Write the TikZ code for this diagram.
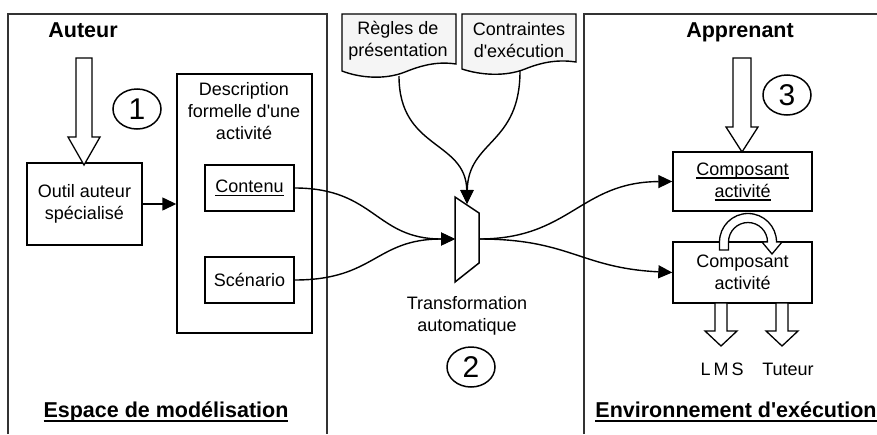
\documentclass[tikz,border=0pt]{standalone}
\usepackage{fontspec}
\setmainfont{Liberation Sans}
\usetikzlibrary{arrows.meta,shapes.geometric}

\newcommand\regsize{\fontsize{18}{22}\selectfont}
\newcommand\titlesize{\fontsize{21.5}{25}\selectfont\bfseries}
\newcommand\numsize{\fontsize{30}{30}\selectfont}
% underlines with a chosen offset and thickness
\newcommand\ulbold[1]{\setbox0=\hbox{#1}\leavevmode\rlap{\rule[-4pt]{\wd0}{2pt}}\box0}
\newcommand\ulthin[1]{\setbox0=\hbox{#1}\leavevmode\rlap{\rule[-3.5pt]{\wd0}{1.2pt}}\box0}
% hollow block arrow pointing down: x, tail y, tip y, half shaft, half head, head length
\newcommand\hollowdown[6]{%
  \draw[hollowline] ({#1-#4},#2) -- ({#1+#4},#2) -- ({#1+#4},{#3-#6}) -- ({#1+#5},{#3-#6})
    -- (#1,#3) -- ({#1-#5},{#3-#6}) -- ({#1-#4},{#3-#6}) -- cycle;}
\newcommand\apos{\textquotesingle}

\begin{document}
\begin{tikzpicture}[x=1pt,y=-1pt,
  frame/.style={line width=1.8pt, draw=black!80},
  box/.style={draw, line width=1.4pt, align=center, inner sep=0pt, font=\regsize},
  txt/.style={align=center, inner sep=0pt, font=\regsize},
  title/.style={inner sep=0pt, font=\titlesize},
  num/.style={ellipse, draw, line width=1.5pt, minimum width=48pt, minimum height=40pt, inner sep=0pt, font=\numsize},
  link/.style={line width=1.4pt, -{Triangle[length=14pt,width=13pt]}},
  doc/.style={draw, line width=1.4pt, fill=black!4},
  trap/.style={draw, line width=1.5pt, fill=white},
  hollowline/.style={draw, line width=1.3pt, fill=white, line join=miter}]
\useasboundingbox (0,0) rectangle (877,434);

% the three areas
\draw[frame] (8,434) -- (8,14) -- (327,14) -- (327,434);
\draw[frame] (584,434) -- (584,14) -- (877,14);

% modelling space
\node[title] (auteur) at (83,30) {Auteur};
\node[title] (espace) at (166,412) {\ulbold{Espace de modélisation}};
\node[num] (n1) at (137,109) {1};
\node[box, minimum width=115pt, minimum height=82pt] (outil) at (84.5,204) {Outil auteur\\spécialisé};
\node[box, minimum width=135pt, minimum height=259pt] (desc) at (244.5,203.5) {};
\node[txt] (desctitle) at (244,111) {Description\\formelle d\apos une\\activité};
\node[box, minimum width=89pt, minimum height=46pt] (contenu) at (249.5,188) {\ulthin{Contenu}};
\node[box, minimum width=89pt, minimum height=46pt] (scenario) at (249.5,280) {Scénario};
\hollowdown{84}{58}{165}{8}{16}{28}
\draw[link] (outil.east) -- (outil.east -| desc.west);

% transformation
\path[doc] (342,14) -- (456,14) -- (456,64) .. controls (436,61) and (420,66) .. (405,72)
  .. controls (385,80) and (360,78) .. (342,71) -- cycle;
\path[doc] (462,14) -- (576,14) -- (576,62) .. controls (556,59) and (540,63) .. (525,69)
  .. controls (505,77) and (480,75) .. (462,69) -- cycle;
\node[txt] (regles) at (398,41) {Règles de\\présentation};
\node[txt] (contraintes) at (519,40) {Contraintes\\d\apos exécution};
\coordinate (rb) at (399,76);
\coordinate (cb) at (520,71);
\draw[trap] (455,197) -- (479,213) -- (479,263) -- (455,282) -- cycle;
\coordinate (tin) at (455,239);
\coordinate (tout) at (479,239);
\coordinate (ttop) at (467,204);
\node[txt] (transfo) at (467,316) {Transformation\\automatique};
\node[num] (n2) at (471,367) {2};

\draw[link] (rb) .. controls (399,150) and (466,140) .. (ttop);
\draw[link] (cb) .. controls (520,145) and (468,140) .. (ttop);
\draw[link] (contenu.east) .. controls (375,188) and (375,239) .. (tin);
\draw[link] (scenario.east) .. controls (375,280) and (375,239) .. (tin);

% execution environment
\node[title] (apprenant) at (740,32) {Apprenant};
\node[title] (envir) at (736,412) {\ulbold{Environnement d\apos exécution}};
\node[num] (n3) at (787,95) {3};
\node[box, minimum width=139pt, minimum height=59pt] (comp1) at (742.5,181.5) {\ulthin{Composant}\\\ulthin{activité}};
\node[box, minimum width=139pt, minimum height=61pt] (comp2) at (742.5,272.5) {Composant\\activité};
\hollowdown{742}{58}{152}{9}{16}{25}
\hollowdown{721}{303}{346}{6}{16}{15}
\hollowdown{782}{303}{346}{6}{16}{15}
\node[txt] (lms) at (722,369) {L\,M\,S};
\node[txt] (tuteur) at (788,369) {Tuteur};

% looping block arrow between the two components
\draw[hollowline] (719.5,250) -- (719.5,242)
  .. controls (719.5,226.26) and (732.26,213.5) .. (748,213.5)
  .. controls (763.74,213.5) and (776.5,226.26) .. (776.5,242)
  -- (782,242) -- (772,254) -- (762,242) -- (767.5,242)
  .. controls (767.5,231.23) and (758.77,222.5) .. (748,222.5)
  .. controls (737.23,222.5) and (728.5,231.23) .. (728.5,242)
  -- (728.5,250) -- cycle;

\draw[link] (tout) .. controls (570,239) and (580,182) .. (comp1.west);
\draw[link] (tout) .. controls (570,239) and (580,268) .. (comp2.west);
\end{tikzpicture}
\end{document}
